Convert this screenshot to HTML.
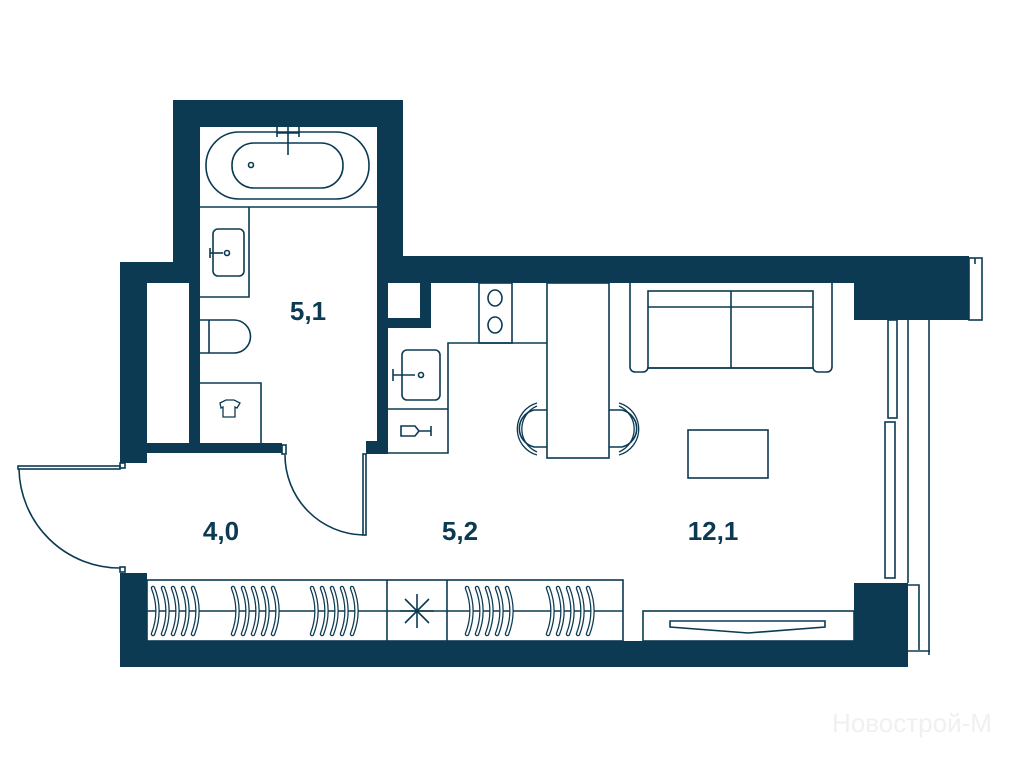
<!DOCTYPE html>
<html><head><meta charset="utf-8"><style>
html,body{margin:0;padding:0;background:#fff;}
svg{display:block}
text{font-family:"Liberation Sans",sans-serif;font-weight:bold;fill:#0b3a52}
</style></head><body>
<svg width="1014" height="768" viewBox="0 0 1014 768" xmlns="http://www.w3.org/2000/svg">
<defs>
<g id="arc"><path d="M0,0 Q9,23 0,46" fill="none" stroke="#0b3a52" stroke-width="4.5" stroke-linecap="round"/><path d="M0,0 Q9,23 0,46" fill="none" stroke="#fff" stroke-width="2" stroke-linecap="round"/></g>
<g id="grp"><use href="#arc" x="0"/><use href="#arc" x="10"/><use href="#arc" x="20"/><use href="#arc" x="30"/><use href="#arc" x="40"/></g>
</defs>
<g fill="#0b3a52">
<!-- bathroom walls -->
<rect x="173" y="100" width="230" height="27"/>
<rect x="173" y="100" width="27" height="183"/>
<rect x="377" y="100" width="26" height="183"/>
<!-- top wall main -->
<rect x="377" y="256" width="592" height="27"/>
<rect x="854" y="256" width="115" height="64"/>
<!-- kitchen block -->
<rect x="377" y="256" width="54" height="72"/>
<rect x="377" y="256" width="11" height="197"/>
<rect x="366" y="441" width="22" height="13"/>
<!-- left walls -->
<rect x="120" y="262" width="80" height="21"/>
<rect x="120" y="262" width="27" height="201"/>
<rect x="189" y="262" width="11" height="190"/>
<rect x="120" y="443" width="162" height="10"/>
<!-- bottom -->
<rect x="120" y="573" width="27" height="94"/>
<rect x="120" y="641" width="788" height="26"/>
<rect x="854" y="583" width="54" height="84"/>
</g>
<rect x="388" y="283" width="32" height="35" fill="#fff"/>
<g fill="none" stroke="#0b3a52" stroke-width="1.6">
<!-- right window -->
<rect x="969" y="258" width="13" height="62"/>
<line x1="975" y1="258" x2="975" y2="264"/>
<rect x="888" y="320" width="9" height="98"/>
<rect x="885" y="422" width="10" height="156"/>
<line x1="908" y1="320" x2="908" y2="583"/>
<line x1="929" y1="320" x2="929" y2="655"/>
<polyline points="908,585 919,585 919,650"/>
<line x1="908" y1="651" x2="930" y2="651"/>
<!-- entrance door -->
<rect x="18" y="466" width="102" height="3"/>
<path d="M19,469 A101,101 0 0 0 120,568"/>
<rect x="120" y="463" width="5" height="5"/>
<rect x="120" y="567" width="5" height="5"/>
<!-- bathroom door -->
<path d="M285,455 A80,80 0 0 0 363,535"/>
<rect x="363" y="454" width="3" height="81"/>
<rect x="282" y="445" width="4" height="9"/>
<!-- bathtub -->
<rect x="206" y="132" width="163" height="67" rx="33"/>
<rect x="232" y="143" width="111" height="45" rx="22"/>
<line x1="277" y1="127" x2="277" y2="137"/><line x1="299" y1="127" x2="299" y2="137"/>
<line x1="288" y1="127" x2="288" y2="155"/><line x1="277" y1="133" x2="299" y2="133"/>
<circle cx="251" cy="165" r="2.5"/>
<line x1="200" y1="207" x2="377" y2="207"/>
<!-- sink cabinet -->
<polyline points="200,297 249,297 249,207"/>
<rect x="213" y="229" width="31" height="47" rx="5"/>
<line x1="210" y1="253" x2="223" y2="253"/><line x1="210" y1="248" x2="210" y2="258"/>
<circle cx="227" cy="253" r="2.5"/>
<!-- toilet -->
<path d="M200,320 H234 A16.5,16.5 0 0 1 234,353 H200"/>
<line x1="209" y1="320" x2="209" y2="353"/>
<!-- laundry -->
<polyline points="200,383 261,383 261,443"/>
<path d="M220,403 l6,-3 h8 l6,3 l-3,5 l-2,-1 v10 h-12 v-10 l-2,1 z" stroke-width="1.3"/>
<!-- kitchen -->
<polyline points="388,453 448,453 448,343 547,343"/>
<rect x="402" y="350" width="38" height="50" rx="5"/>
<line x1="393" y1="375" x2="415" y2="375"/><line x1="393" y1="369" x2="393" y2="381"/>
<circle cx="421" cy="375" r="2.5"/>
<line x1="388" y1="409" x2="448" y2="409"/>
<path d="M401,426 h14 l4,5 l-4,5 h-14 z M419,431 h12 M431,426 v10"/>
<rect x="479" y="283" width="33" height="60"/>
<ellipse cx="495" cy="298" rx="7" ry="8"/><ellipse cx="495" cy="325" rx="7" ry="8"/>
<rect x="547" y="283" width="62" height="175"/>
<!-- chairs -->
<path d="M547,410 H534 A19,19 0 0 0 534,447 H547"/>
<path d="M537,403 A27,27 0 0 0 537,455 M537,406 A25,25 0 0 0 537,452" stroke-width="1.3"/>
<path d="M609,410 H622 A19,19 0 0 1 622,447 H609"/>
<path d="M619,403 A27,27 0 0 1 619,455 M619,406 A25,25 0 0 1 619,452" stroke-width="1.3"/>
<!-- sofa -->
<path d="M630,283 V367 a5,5 0 0 0 5,5 h8 a5,5 0 0 0 5,-5 V368 H813 a5,5 0 0 0 5,4 h9 a5,5 0 0 0 5,-5 V283"/>
<rect x="648" y="291" width="165" height="77"/>
<line x1="648" y1="307" x2="813" y2="307"/>
<line x1="731" y1="291" x2="731" y2="368"/>
<rect x="688" y="430" width="80" height="48"/>
<!-- bottom cabinets -->
<rect x="147" y="580" width="476" height="61"/>
<line x1="147" y1="611" x2="623" y2="611"/>
<line x1="387" y1="580" x2="387" y2="641"/>
<line x1="447" y1="580" x2="447" y2="641"/>
<path d="M400,611 h34 M417,594 v34 M405,599 l24,24 M429,599 l-24,24"/>
<rect x="643" y="611" width="211" height="30"/>
<path d="M670,621 L825,621 L825,627 L748,633 L670,627 Z"/>
</g>
<g transform="translate(153,588)">
<use href="#grp" x="0"/><use href="#grp" x="80"/><use href="#grp" x="159"/><use href="#grp" x="314"/><use href="#grp" x="395"/>
</g>
<text x="308" y="320" font-size="26" text-anchor="middle">5,1</text>
<text x="221" y="540" font-size="26" text-anchor="middle">4,0</text>
<text x="460" y="540" font-size="26" text-anchor="middle">5,2</text>
<text x="713" y="540" font-size="26" text-anchor="middle">12,1</text>
<text x="912" y="732" font-size="26" text-anchor="middle" style="fill:#eef0f2;font-weight:normal">Новострой-М</text>
</svg>
</body></html>
